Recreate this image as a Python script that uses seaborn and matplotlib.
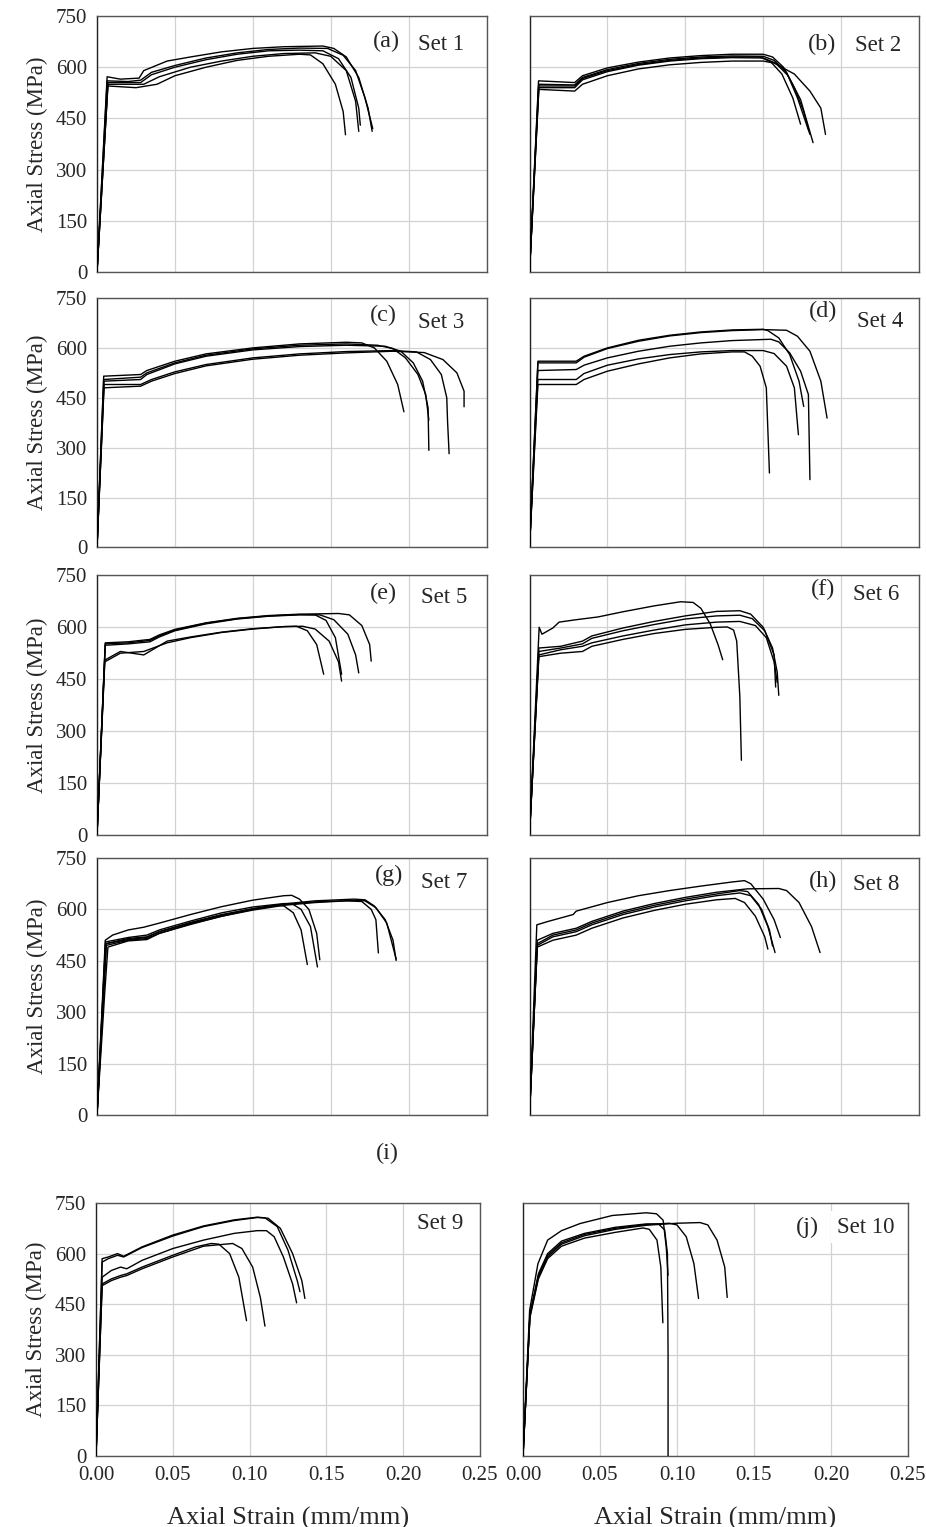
import numpy as np
import pandas as pd
import matplotlib
matplotlib.use("Agg")
import matplotlib.pyplot as plt
import seaborn as sns

# ---------------- data (strain mm/mm, stress MPa) ----------------
SET1 = [
    [(0, 0), (0.0065, 572), (0.015, 565), (0.027, 568), (0.03, 590), (0.045, 618), (0.06, 630), (0.08, 645), (0.10, 655), (0.12, 660), (0.145, 662), (0.152, 655), (0.16, 630), (0.168, 570), (0.174, 480), (0.1766, 412)],
    [(0, 0), (0.0065, 560), (0.02, 558), (0.028, 562), (0.035, 585), (0.05, 605), (0.07, 627), (0.09, 642), (0.11, 652), (0.13, 656), (0.148, 655), (0.158, 635), (0.166, 590), (0.172, 510), (0.177, 420)],
    [(0, 0), (0.007, 555), (0.028, 555), (0.035, 578), (0.05, 600), (0.07, 622), (0.09, 638), (0.11, 648), (0.13, 650), (0.145, 648), (0.155, 625), (0.163, 570), (0.168, 480), (0.169, 430)],
    [(0, 0), (0.007, 550), (0.03, 550), (0.04, 572), (0.06, 600), (0.08, 618), (0.10, 632), (0.12, 640), (0.14, 642), (0.15, 632), (0.16, 590), (0.166, 500), (0.168, 412)],
    [(0, 0), (0.007, 545), (0.025, 540), (0.0385, 550), (0.05, 575), (0.07, 600), (0.09, 620), (0.11, 632), (0.13, 638), (0.137, 636), (0.145, 610), (0.153, 550), (0.158, 470), (0.1595, 402)],
]
SET2 = [
    [(0, 0), (0.0058, 560), (0.029, 555), (0.034, 575), (0.05, 598), (0.07, 615), (0.09, 627), (0.11, 634), (0.13, 638), (0.15, 638), (0.156, 630), (0.163, 600), (0.170, 540), (0.176, 470), (0.179, 418)],
    [(0, 0), (0.006, 550), (0.029, 548), (0.034, 570), (0.05, 593), (0.07, 611), (0.09, 623), (0.11, 630), (0.13, 633), (0.15, 632), (0.157, 620), (0.165, 585), (0.172, 510), (0.180, 403)],
    [(0, 0), (0.006, 540), (0.029, 540), (0.034, 563), (0.05, 587), (0.07, 606), (0.09, 618), (0.11, 625), (0.13, 628), (0.15, 627), (0.158, 612), (0.166, 575), (0.174, 505), (0.182, 379)],
    [(0, 0), (0.006, 535), (0.029, 530), (0.034, 550), (0.05, 575), (0.07, 595), (0.09, 607), (0.11, 614), (0.13, 618), (0.15, 618), (0.157, 612), (0.17, 580), (0.18, 530), (0.187, 480), (0.190, 403)],
    [(0, 0), (0.0058, 545), (0.029, 545), (0.034, 567), (0.05, 590), (0.07, 608), (0.09, 620), (0.11, 627), (0.13, 630), (0.148, 630), (0.155, 615), (0.162, 580), (0.169, 510), (0.174, 433)],
]
SET3 = [
    [(0, 0), (0.0043, 515), (0.028, 520), (0.032, 532), (0.05, 560), (0.07, 582), (0.10, 600), (0.13, 612), (0.16, 617), (0.17, 615), (0.178, 600), (0.186, 560), (0.193, 490), (0.197, 408)],
    [(0, 0), (0.0043, 505), (0.028, 512), (0.032, 525), (0.05, 555), (0.07, 578), (0.10, 597), (0.13, 608), (0.16, 612), (0.18, 608), (0.19, 598), (0.198, 570), (0.206, 520), (0.211, 460), (0.213, 383)],
    [(0, 0), (0.0045, 500), (0.028, 505), (0.032, 520), (0.05, 552), (0.07, 575), (0.10, 594), (0.13, 604), (0.16, 608), (0.185, 605), (0.195, 590), (0.203, 555), (0.209, 500), (0.2125, 420), (0.213, 292)],
    [(0, 0), (0.0045, 490), (0.028, 490), (0.035, 505), (0.05, 528), (0.07, 550), (0.10, 570), (0.13, 582), (0.16, 589), (0.19, 592), (0.205, 588), (0.214, 565), (0.221, 520), (0.2245, 450), (0.225, 380), (0.226, 282)],
    [(0, 0), (0.0045, 480), (0.028, 485), (0.035, 500), (0.05, 523), (0.07, 546), (0.10, 566), (0.13, 578), (0.16, 585), (0.19, 590), (0.21, 586), (0.222, 565), (0.231, 525), (0.2356, 470), (0.2356, 423)],
]
SET4 = [
    [(0, 0), (0.0054, 560), (0.030, 560), (0.035, 575), (0.05, 600), (0.07, 623), (0.09, 638), (0.11, 648), (0.13, 654), (0.15, 656), (0.153, 652), (0.16, 630), (0.167, 580), (0.173, 500), (0.176, 424)],
    [(0, 0), (0.0054, 555), (0.030, 555), (0.035, 572), (0.05, 598), (0.07, 620), (0.09, 636), (0.11, 646), (0.13, 652), (0.15, 655), (0.165, 653), (0.172, 635), (0.18, 590), (0.187, 500), (0.191, 389)],
    [(0, 0), (0.0054, 532), (0.030, 535), (0.035, 548), (0.05, 570), (0.07, 590), (0.09, 605), (0.11, 615), (0.13, 622), (0.155, 626), (0.16, 618), (0.167, 585), (0.174, 530), (0.179, 460), (0.180, 204)],
    [(0, 0), (0.0054, 505), (0.030, 505), (0.035, 523), (0.05, 548), (0.07, 567), (0.09, 580), (0.11, 588), (0.13, 592), (0.15, 592), (0.157, 583), (0.165, 545), (0.17, 480), (0.1726, 339)],
    [(0, 0), (0.0054, 490), (0.030, 490), (0.035, 505), (0.05, 530), (0.07, 552), (0.09, 570), (0.11, 582), (0.13, 588), (0.138, 588), (0.143, 575), (0.148, 545), (0.152, 480), (0.154, 224)],
]
SET5 = [
    [(0, 0), (0.0053, 552), (0.02, 555), (0.034, 562), (0.04, 575), (0.05, 592), (0.07, 612), (0.09, 625), (0.11, 633), (0.13, 637), (0.14, 636), (0.147, 620), (0.153, 570), (0.157, 464)],
    [(0, 0), (0.0053, 548), (0.02, 552), (0.034, 558), (0.04, 572), (0.05, 590), (0.07, 610), (0.09, 624), (0.11, 632), (0.13, 636), (0.143, 636), (0.152, 622), (0.161, 580), (0.166, 520), (0.168, 468)],
    [(0, 0), (0.0053, 555), (0.02, 558), (0.034, 565), (0.04, 578), (0.05, 594), (0.07, 613), (0.09, 626), (0.11, 634), (0.13, 638), (0.155, 640), (0.162, 636), (0.170, 605), (0.175, 550), (0.176, 502)],
    [(0, 0), (0.005, 500), (0.015, 525), (0.03, 530), (0.045, 555), (0.06, 570), (0.08, 585), (0.10, 595), (0.12, 602), (0.128, 603), (0.135, 590), (0.141, 550), (0.1455, 464)],
    [(0, 0), (0.005, 505), (0.015, 530), (0.03, 520), (0.045, 560), (0.06, 572), (0.08, 586), (0.10, 596), (0.12, 602), (0.132, 603), (0.14, 595), (0.149, 560), (0.155, 500), (0.157, 444)],
]
SET6 = [
    [(0, 0), (0.0062, 600), (0.008, 580), (0.015, 598), (0.019, 615), (0.03, 622), (0.044, 630), (0.06, 645), (0.08, 662), (0.097, 674), (0.105, 672), (0.11, 655), (0.116, 610), (0.121, 550), (0.124, 506)],
    [(0, 0), (0.006, 540), (0.02, 545), (0.034, 560), (0.04, 575), (0.06, 598), (0.08, 617), (0.10, 633), (0.12, 646), (0.135, 648), (0.142, 638), (0.15, 600), (0.156, 540), (0.159, 470), (0.160, 403)],
    [(0, 0), (0.006, 530), (0.02, 540), (0.034, 552), (0.04, 568), (0.06, 590), (0.08, 608), (0.10, 624), (0.12, 633), (0.135, 635), (0.143, 625), (0.151, 590), (0.157, 520), (0.158, 427)],
    [(0, 0), (0.006, 520), (0.02, 535), (0.034, 545), (0.04, 555), (0.06, 575), (0.08, 592), (0.10, 607), (0.12, 615), (0.135, 617), (0.145, 605), (0.152, 570), (0.157, 500), (0.159, 440)],
    [(0, 0), (0.006, 515), (0.02, 525), (0.034, 530), (0.04, 545), (0.06, 565), (0.08, 582), (0.10, 594), (0.12, 600), (0.127, 601), (0.131, 592), (0.133, 560), (0.135, 400), (0.136, 215)],
]
SET7 = [
    [(0, 0), (0.0053, 510), (0.01, 525), (0.02, 540), (0.03, 548), (0.04, 560), (0.06, 585), (0.08, 608), (0.10, 627), (0.12, 640), (0.125, 641), (0.13, 630), (0.136, 600), (0.141, 530), (0.143, 453)],
    [(0, 0), (0.0055, 500), (0.02, 515), (0.032, 520), (0.04, 535), (0.06, 562), (0.08, 585), (0.10, 602), (0.115, 612), (0.12, 610), (0.126, 590), (0.131, 540), (0.135, 439)],
    [(0, 0), (0.0055, 505), (0.02, 518), (0.032, 525), (0.04, 540), (0.06, 566), (0.08, 590), (0.10, 607), (0.12, 617), (0.125, 617), (0.131, 600), (0.137, 550), (0.1415, 432)],
    [(0, 0), (0.006, 495), (0.02, 510), (0.032, 515), (0.04, 530), (0.06, 558), (0.08, 580), (0.10, 598), (0.12, 612), (0.14, 620), (0.16, 625), (0.17, 623), (0.176, 600), (0.179, 570), (0.1806, 473)],
    [(0, 0), (0.006, 500), (0.02, 512), (0.032, 518), (0.04, 535), (0.06, 560), (0.08, 583), (0.10, 602), (0.12, 616), (0.14, 625), (0.165, 630), (0.172, 628), (0.178, 610), (0.185, 570), (0.19, 510), (0.192, 451)],
    [(0, 0), (0.005, 360), (0.007, 490), (0.02, 508), (0.032, 512), (0.04, 530), (0.06, 556), (0.08, 580), (0.10, 600), (0.12, 614), (0.14, 622), (0.165, 626), (0.172, 625), (0.179, 605), (0.186, 560), (0.192, 455)],
]
SET8 = [
    [(0, 0), (0.0047, 555), (0.012, 565), (0.02, 575), (0.028, 585), (0.03, 595), (0.05, 620), (0.07, 640), (0.09, 655), (0.11, 668), (0.13, 680), (0.138, 684), (0.142, 675), (0.15, 630), (0.157, 570), (0.161, 518)],
    [(0, 0), (0.005, 510), (0.015, 530), (0.03, 545), (0.04, 565), (0.06, 595), (0.08, 617), (0.10, 635), (0.12, 650), (0.14, 660), (0.16, 661), (0.165, 655), (0.173, 620), (0.181, 550), (0.1865, 474)],
    [(0, 0), (0.005, 500), (0.015, 525), (0.03, 540), (0.04, 560), (0.06, 590), (0.08, 612), (0.10, 630), (0.12, 645), (0.135, 655), (0.14, 652), (0.147, 615), (0.153, 550), (0.1576, 474)],
    [(0, 0), (0.005, 495), (0.015, 520), (0.03, 535), (0.04, 555), (0.06, 585), (0.08, 607), (0.10, 625), (0.12, 640), (0.135, 648), (0.142, 640), (0.149, 600), (0.154, 540), (0.156, 493)],
    [(0, 0), (0.005, 490), (0.015, 510), (0.03, 525), (0.04, 545), (0.06, 575), (0.08, 597), (0.10, 615), (0.12, 628), (0.132, 632), (0.138, 620), (0.145, 580), (0.151, 520), (0.153, 484)],
]
SET9 = [
    [(0, 0), (0.004, 585), (0.008, 590), (0.014, 600), (0.018, 592), (0.03, 620), (0.05, 655), (0.07, 682), (0.09, 700), (0.105, 708), (0.11, 706), (0.118, 680), (0.125, 610), (0.131, 520), (0.1328, 487)],
    [(0, 0), (0.004, 575), (0.008, 585), (0.014, 595), (0.018, 590), (0.03, 618), (0.05, 652), (0.07, 680), (0.09, 698), (0.105, 707), (0.112, 705), (0.12, 675), (0.128, 600), (0.134, 520), (0.136, 467)],
    [(0, 0), (0.004, 530), (0.01, 550), (0.016, 560), (0.02, 555), (0.03, 580), (0.05, 615), (0.07, 640), (0.09, 660), (0.105, 668), (0.111, 668), (0.116, 650), (0.122, 590), (0.128, 510), (0.1306, 454)],
    [(0, 0), (0.004, 510), (0.01, 525), (0.016, 535), (0.02, 540), (0.03, 560), (0.05, 595), (0.065, 620), (0.075, 630), (0.08, 628), (0.087, 600), (0.093, 530), (0.098, 401)],
    [(0, 0), (0.004, 505), (0.01, 520), (0.016, 530), (0.02, 535), (0.03, 555), (0.05, 590), (0.07, 622), (0.089, 630), (0.095, 615), (0.102, 560), (0.107, 470), (0.110, 385)],
]
SET10 = [
    [(0, 0), (0.0043, 432), (0.0097, 570), (0.016, 640), (0.025, 668), (0.037, 689), (0.058, 713), (0.080, 721), (0.0867, 718), (0.091, 699), (0.093, 620), (0.0942, 536)],
    [(0, 0), (0.0045, 420), (0.01, 540), (0.016, 600), (0.025, 637), (0.04, 660), (0.06, 678), (0.08, 688), (0.088, 688), (0.092, 670), (0.0938, 600), (0.0942, 300), (0.0942, 0)],
    [(0, 0), (0.0045, 420), (0.01, 535), (0.016, 595), (0.025, 632), (0.04, 657), (0.06, 675), (0.08, 686), (0.095, 690), (0.100, 685), (0.106, 650), (0.111, 570), (0.114, 467)],
    [(0, 0), (0.0045, 415), (0.01, 530), (0.016, 590), (0.025, 628), (0.04, 653), (0.06, 672), (0.08, 684), (0.10, 690), (0.115, 692), (0.12, 685), (0.126, 640), (0.131, 560), (0.1326, 470)],
    [(0, 0), (0.0045, 410), (0.01, 525), (0.016, 585), (0.025, 622), (0.04, 646), (0.06, 663), (0.078, 676), (0.082, 672), (0.087, 640), (0.0895, 560), (0.0908, 395)],
]

PANEL_TAGS = ["(a)", "(b)", "(c)", "(d)", "(e)", "(f)", "(g)", "(h)", "", "(j)"]
SET_NAMES = ["Set 1", "Set 2", "Set 3", "Set 4", "Set 5", "Set 6", "Set 7", "Set 8", "Set 9", "Set 10"]
X_TICKS = [0.00, 0.05, 0.10, 0.15, 0.20, 0.25]
Y_TICKS = [0, 150, 300, 450, 600, 750]
X_LABEL = "Axial Strain (mm/mm)"
Y_LABEL = "Axial Stress (MPa)"

ALL_SETS = [SET1, SET2, SET3, SET4, SET5, SET6, SET7, SET8, SET9, SET10]

# ---------------- style ----------------
sns.set_style("white")
plt.rcParams["font.family"] = ["Liberation Serif", "DejaVu Serif"]
plt.rcParams["mathtext.fontset"] = "stix"

W, H = 926, 1527
fig = plt.figure(figsize=(W / 100, H / 100), dpi=100)

# axes boxes in pixels: (left, right, top, bottom)
BOXES = [
    (97, 486.5, 16, 272), (529.5, 919, 16, 272),
    (97, 486.5, 298, 547.5), (529.5, 919, 298, 547.5),
    (97, 486.5, 575.5, 834.5), (529.5, 919, 575.5, 834.5),
    (97, 486.5, 858, 1115), (529.5, 919, 858, 1115),
    (96, 480, 1203, 1456), (523, 908, 1203, 1456),
]
# label positions in axes fraction: (tag_x, tag_y, set_x, set_y)
LABEL_POS = [
    (0.743, 0.90, 0.825, 0.89), (0.751, 0.89, 0.836, 0.885),
    (0.735, 0.93, 0.824, 0.90), (0.754, 0.945, 0.841, 0.905),
    (0.736, 0.929, 0.831, 0.915), (0.754, 0.945, 0.83, 0.925),
    (0.749, 0.934, 0.831, 0.903), (0.754, 0.907, 0.83, 0.895),
    (0.0, 0.0, 0.836, 0.92), (0.74, 0.905, 0.815, 0.905),
]

for i, (curves, box) in enumerate(zip(ALL_SETS, BOXES)):
    l, r, t, b = box
    ax = fig.add_axes([l / W, 1 - b / H, (r - l) / W, (b - t) / H])
    rows = []
    for ci, c in enumerate(curves):
        for k, (sx, sy) in enumerate(c):
            rows.append({"curve": ci, "order": k, "strain": sx, "stress": sy})
    df = pd.DataFrame(rows)
    sns.lineplot(data=df, x="strain", y="stress", units="curve", estimator=None,
                 sort=False, color="black", linewidth=1.0, ax=ax, legend=False,
                 zorder=3)
    ax.set_xlim(0, 0.25)
    ax.set_ylim(0, 750)
    ax.set_xticks(X_TICKS)
    ax.set_yticks(Y_TICKS)
    ax.grid(True, color="#d2d2d2", linewidth=0.9)
    ax.set_axisbelow(True)
    for side in ["top", "right", "bottom"]:
        ax.spines[side].set_color("#555555")
        ax.spines[side].set_linewidth(1.0)
    ax.spines["left"].set_color("#222222")
    ax.spines["left"].set_linewidth(1.0)
    ax.tick_params(axis="both", direction="out", length=4, width=0.9,
                   color="#333333", labelsize=15, pad=3)
    ax.set_xlabel("")
    ax.set_ylabel("")
    col = i % 2
    row = i // 2
    if col == 0:
        ax.set_yticklabels([str(v) for v in Y_TICKS])
        ax.set_ylabel(Y_LABEL, fontsize=16.5, labelpad=6)
    else:
        ax.set_yticklabels([])
    if row == 4:
        ax.set_xticklabels(["%.2f" % v for v in X_TICKS])
        ax.set_xlabel(X_LABEL, fontsize=19, labelpad=16)
    else:
        ax.set_xticklabels([])
    tx, ty, sx, sy = LABEL_POS[i]
    if PANEL_TAGS[i]:
        ax.text(tx, ty, PANEL_TAGS[i], transform=ax.transAxes, fontsize=17.5,
                ha="center", va="center", zorder=5)
    ax.text(sx, sy, SET_NAMES[i], transform=ax.transAxes, fontsize=16.5,
            ha="left", va="center", zorder=5,
            bbox=dict(boxstyle="square,pad=0.25", facecolor="white", edgecolor="none"))

fig.text(387 / W, 1 - 1153 / H, "(i)", fontsize=17.5, ha="center", va="center")

fig.savefig("out.png", dpi=100)
